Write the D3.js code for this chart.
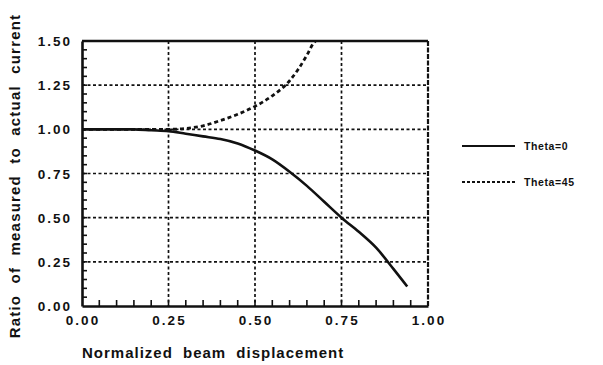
<!DOCTYPE html>
<html>
<head>
<meta charset="utf-8">
<script src="https://cdn.jsdelivr.net/npm/d3@7"></script>
<style>
  body { margin: 0; background: #fff; }
  text { font-family: "Liberation Sans", Arial, sans-serif; font-weight: bold; fill: #111; }
</style>
</head>
<body>
<div id="chart"></div>
<script>
const width = 603, height = 365;

// readings
const xTicks = [0, 0.25, 0.5, 0.75, 1.0];
const yTicks = [0, 0.25, 0.5, 0.75, 1.0, 1.25, 1.5];
const theta0X = [0, 0.05, 0.10, 0.15, 0.20, 0.25, 0.30, 0.35, 0.40, 0.45, 0.50, 0.55, 0.60, 0.65, 0.70, 0.75, 0.80, 0.85, 0.90, 0.94];
const theta0Y = [1.0, 1.0, 1.0, 1.0, 0.995, 0.99, 0.975, 0.96, 0.945, 0.92, 0.88, 0.83, 0.76, 0.68, 0.59, 0.50, 0.42, 0.33, 0.21, 0.11];
const theta45X = [0, 0.05, 0.10, 0.15, 0.20, 0.25, 0.30, 0.35, 0.40, 0.45, 0.50, 0.55, 0.60, 0.625, 0.65, 0.67, 0.675];
const theta45Y = [1.0, 1.0, 1.0, 1.0, 1.0, 1.0, 1.005, 1.02, 1.05, 1.085, 1.13, 1.19, 1.275, 1.34, 1.42, 1.49, 1.5];
const legendNames = ["Theta=0", "Theta=45"];

const pLeft = 82, pRight = 428, pTop = 41, pBottom = 306;

const svg = d3.select("#chart").append("svg")
  .attr("width", width)
  .attr("height", height);

const x = d3.scaleLinear().domain([0, 1]).range([pLeft, pRight]);
const y = d3.scaleLinear().domain([0, 1.5]).range([pBottom, pTop]);

// dashed grid
svg.append("g")
  .selectAll("line")
  .data(xTicks.slice(1, -1))
  .join("line")
  .attr("x1", d => x(d)).attr("x2", d => x(d))
  .attr("y1", pTop).attr("y2", pBottom)
  .attr("stroke", "#111").attr("stroke-width", 1.7)
  .attr("stroke-dasharray", "3,2.5");

svg.append("g")
  .selectAll("line")
  .data(yTicks.slice(1, -1))
  .join("line")
  .attr("x1", pLeft).attr("x2", pRight)
  .attr("y1", d => y(d)).attr("y2", d => y(d))
  .attr("stroke", "#111").attr("stroke-width", 1.7)
  .attr("stroke-dasharray", "3,2.5");

// frame
svg.append("line").attr("x1", pLeft).attr("x2", pRight).attr("y1", pTop).attr("y2", pTop)
  .attr("stroke", "#111").attr("stroke-width", 2.5);
svg.append("line").attr("x1", pRight).attr("x2", pRight).attr("y1", pTop).attr("y2", pBottom)
  .attr("stroke", "#111").attr("stroke-width", 2.2).attr("stroke-dasharray", "5,1.5");

// inward minor ticks
const minorX = d3.range(1, 20).map(i => i * 0.05);
const minorY = d3.range(1, 30).map(i => i * 0.05);

svg.append("g").selectAll("line")
  .data(minorX)
  .join("line")
  .attr("x1", d => x(d)).attr("x2", d => x(d))
  .attr("y1", pBottom).attr("y2", pBottom - 6)
  .attr("stroke", "#111").attr("stroke-width", 1.6);

svg.append("g").selectAll("line")
  .data(minorY)
  .join("line")
  .attr("x1", pLeft).attr("x2", pLeft + 5)
  .attr("y1", d => y(d)).attr("y2", d => y(d))
  .attr("stroke", "#111").attr("stroke-width", 1.6);

// axis lines
svg.append("g").attr("transform", `translate(0,${pBottom})`)
  .call(d3.axisBottom(x).tickValues([]).tickSizeOuter(0))
  .call(g => g.select(".domain").attr("stroke", "#111").attr("stroke-width", 2.6));
svg.append("g").attr("transform", `translate(${pLeft},0)`)
  .call(d3.axisLeft(y).tickValues([]).tickSizeOuter(0))
  .call(g => g.select(".domain").attr("stroke", "#111").attr("stroke-width", 2.6));

// tick labels
svg.append("g").selectAll("text")
  .data(xTicks)
  .join("text")
  .attr("x", d => x(d) + 1).attr("y", 325)
  .attr("text-anchor", "middle")
  .attr("font-size", 13.5)
  .attr("letter-spacing", 2)
  .text(d => d.toFixed(2));

svg.append("g").selectAll("text")
  .data(yTicks)
  .join("text")
  .attr("x", 72).attr("y", d => y(d) + 5)
  .attr("text-anchor", "end")
  .attr("font-size", 13.5)
  .attr("letter-spacing", 2)
  .text(d => d.toFixed(2));

// axis titles
svg.append("text")
  .attr("x", 82).attr("y", 358)
  .attr("font-size", 15)
  .attr("letter-spacing", 1)
  .attr("word-spacing", 5)
  .text("Normalized beam displacement");

svg.append("text")
  .attr("transform", "translate(20,176) rotate(-90)")
  .attr("text-anchor", "middle")
  .attr("font-size", 15)
  .attr("letter-spacing", 1.2)
  .attr("word-spacing", 6)
  .text("Ratio of measured to actual current");

// curves
const line = d3.line().x(d => x(d[0])).y(d => y(d[1])).curve(d3.curveMonotoneX);

svg.append("path")
  .datum(d3.zip(theta0X, theta0Y))
  .attr("d", line)
  .attr("fill", "none").attr("stroke", "#111").attr("stroke-width", 2.6);

svg.append("path")
  .datum(d3.zip(theta45X, theta45Y))
  .attr("d", line)
  .attr("fill", "none").attr("stroke", "#111").attr("stroke-width", 2.8)
  .attr("stroke-dasharray", "4,3");

// legend
const legendY = [146, 182];
const leg = svg.append("g").selectAll("g")
  .data(legendNames)
  .join("g")
  .attr("transform", (d, i) => `translate(0,${legendY[i]})`);

leg.append("line")
  .attr("x1", 462).attr("x2", 515)
  .attr("stroke", "#111").attr("stroke-width", 2)
  .attr("stroke-dasharray", (d, i) => i === 0 ? null : "3,2");

leg.append("text")
  .attr("x", 524).attr("y", 4)
  .attr("font-size", 10.5)
  .attr("letter-spacing", 0.6)
  .text(d => d);
</script>
</body>
</html>
